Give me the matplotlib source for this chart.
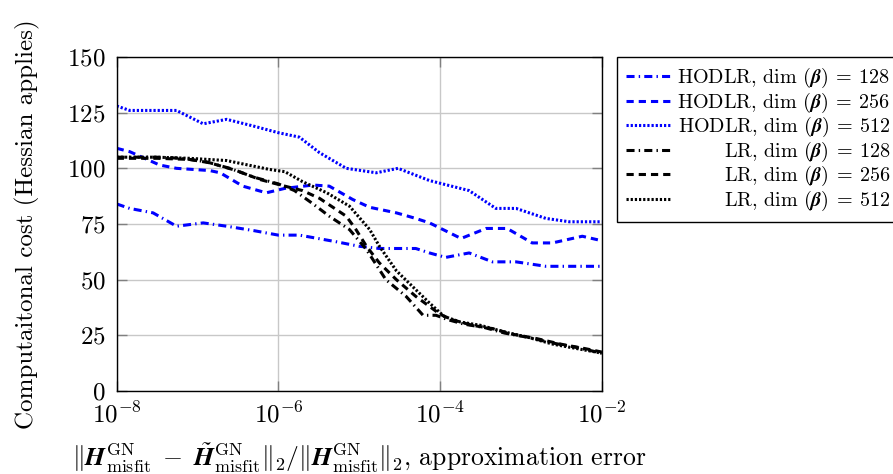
import numpy as np
import matplotlib
matplotlib.use('Agg')
import matplotlib.pyplot as plt

plt.rcParams['font.family'] = 'cmr10'
plt.rcParams['mathtext.fontset'] = 'cm'
plt.rcParams['axes.unicode_minus'] = False
plt.rcParams['axes.formatter.use_mathtext'] = True
plt.rcParams['lines.scale_dashes'] = False

# relative approximation error (log10 exponents) and Hessian applies per curve
hodlr128_exp = [-8.0, -7.84, -7.55, -7.26, -6.93, -6.64, -6.3, -6.0, -5.74, -5.28,
                -5.0, -4.75, -4.30, -4.13, -3.93, -3.64, -3.35, -3.06, -2.69, -2.0]
hodlr128_cost = [84, 82, 80, 74, 75.5, 74, 72, 70, 70, 67,
                 65, 64, 64, 62, 60, 62, 58, 58, 56, 56]

hodlr256_exp = [-8.0, -7.84, -7.47, -7.26, -6.85, -6.72, -6.44, -6.15, -5.92, -5.57,
                -5.37, -5.08, -4.87, -4.54, -4.30, -4.13, -3.74, -3.43, -3.17, -2.86,
                -2.61, -2.24, -2.0]
hodlr256_cost = [109, 107.5, 101.5, 100, 99, 98, 92, 89, 91, 92.5,
                 92, 86, 82.5, 80, 77.5, 75.5, 68.5, 73, 73, 66.5,
                 66.5, 69.5, 67.5]

hodlr512_exp = [-8.0, -7.84, -7.26, -6.93, -6.64, -6.31, -6.0, -5.74, -5.49, -5.16,
                -4.79, -4.52, -4.13, -3.64, -3.31, -3.06, -2.69, -2.4, -2.0]
hodlr512_cost = [128, 126, 126, 120, 122, 119, 116, 114, 107, 100,
                 98, 100, 94.5, 90, 82, 82, 77.5, 76, 76]

lr128_exp = [-8.0, -7.5, -7.2, -6.9, -6.6, -6.3, -6.0, -5.8, -5.57, -5.37,
             -5.12, -4.91, -4.67, -4.42, -4.21, -4.05, -3.9, -3.7, -3.45, -3.2,
             -2.9, -2.6, -2.3, -2.0]
lr128_cost = [105, 105, 104.5, 103, 100, 96, 93, 90, 84, 78.5,
              72.5, 63.5, 50, 42.5, 34, 34, 32, 30, 28.5, 26,
              24, 21.5, 19.5, 17]

lr256_exp = [-8.0, -7.5, -7.1, -6.85, -6.52, -6.23, -5.92, -5.7, -5.49, -5.16,
             -5.04, -4.91, -4.75, -4.54, -4.30, -4.0, -3.85, -3.6, -3.35, -3.1,
             -2.8, -2.5, -2.2, -2.0]
lr256_cost = [104.5, 104.5, 104, 102.5, 99, 95, 92, 90, 86.5, 78.5,
              72.5, 65, 57.5, 50, 42.5, 34.5, 32, 29.5, 28, 25.5,
              23.5, 21, 19, 17.5]

lr512_exp = [-8.0, -7.5, -7.1, -6.64, -6.31, -6.11, -5.92, -5.7, -5.4, -5.12,
             -4.87, -4.75, -4.54, -4.3, -4.13, -3.95, -3.75, -3.5, -3.2, -2.9,
             -2.6, -2.3, -2.0]
lr512_cost = [105, 105, 104.5, 103.5, 101, 99.5, 98.5, 94, 89, 83,
              72.5, 65, 54, 45.5, 39.5, 33.5, 31, 29.5, 26.5, 24,
              21, 19, 17]

x_ticks = [1e-8, 1e-6, 1e-4, 1e-2]
x_ticklabels = [r'$10^{-8}$', r'$10^{-6}$', r'$10^{-4}$', r'$10^{-2}$']
y_ticks = [0, 25, 50, 75, 100, 125, 150]

labels = [r'HODLR, $\dim\,(\boldsymbol{\beta})\:=\:128$',
          r'HODLR, $\dim\,(\boldsymbol{\beta})\:=\:256$',
          r'HODLR, $\dim\,(\boldsymbol{\beta})\:=\:512$',
          r'LR, $\dim\,(\boldsymbol{\beta})\:=\:128$',
          r'LR, $\dim\,(\boldsymbol{\beta})\:=\:256$',
          r'LR, $\dim\,(\boldsymbol{\beta})\:=\:512$']

dashdot = (0, (5.8, 3.0, 1.0, 3.0))
dashed = (0, (5.2, 3.6))
dotted = (0, (1.6, 1.4))

series = [
    (hodlr128_exp, hodlr128_cost, 'blue', dashdot),
    (hodlr256_exp, hodlr256_cost, 'blue', dashed),
    (hodlr512_exp, hodlr512_cost, 'blue', dotted),
    (lr128_exp, lr128_cost, 'black', dashdot),
    (lr256_exp, lr256_cost, 'black', dashed),
    (lr512_exp, lr512_cost, 'black', dotted),
]

W, H = 893, 474
fig = plt.figure(figsize=(W / 100, H / 100), dpi=100)
ax = fig.add_axes([116.7 / W, 1 - 391 / H, 485 / W, 334 / H])

for (ex, cost, color, ls), lab in zip(series, labels):
    ax.plot(10.0 ** np.array(ex), cost, color=color, linestyle=ls,
            linewidth=2.2, dash_capstyle='butt', label=lab)

ax.set_xscale('log')
ax.set_xlim(1e-8, 1e-2)
ax.set_ylim(0, 150)
ax.set_xticks(x_ticks)
ax.set_xticklabels(x_ticklabels)
ax.xaxis.set_minor_locator(matplotlib.ticker.NullLocator())
ax.set_yticks(y_ticks)
ax.grid(True, color='#c8c8c8', linewidth=1.0)
ax.set_axisbelow(True)
ax.tick_params(which='major', direction='in', length=7, width=1.0,
               color='#808080', labelsize=18, pad=8,
               top=True, right=True)
for sp in ax.spines.values():
    sp.set_linewidth(1.0)
    sp.set_color('black')

ax.set_ylabel('Computaitonal cost (Hessian applies)', fontsize=18)
ax.yaxis.set_label_coords(-0.158, 0.5)
ax.set_xlabel(r'$\|\boldsymbol{H}^{\mathrm{GN}}_{\mathrm{misfit}}'
              r'\;-\;\tilde{\boldsymbol{H}}^{\mathrm{GN}}_{\mathrm{misfit}}\|_2'
              r'/\|\boldsymbol{H}^{\mathrm{GN}}_{\mathrm{misfit}}\|_2$, approximation error',
              fontsize=18.5)
ax.xaxis.set_label_coords(0.5, -0.148)

leg = ax.legend(loc='upper left', bbox_to_anchor=(617 / W, 1 - 57 / H),
                bbox_transform=fig.transFigure, fontsize=14.5, frameon=True,
                fancybox=False, framealpha=1, edgecolor='black',
                borderaxespad=0, borderpad=0.45, handlelength=2.25,
                handletextpad=0.3, labelspacing=0.02)
leg.get_frame().set_linewidth(1.0)

# right-align the legend labels, keeping the handles on the left
fig.canvas.draw()
renderer = fig.canvas.get_renderer()
widths = [t.get_window_extent(renderer).width for t in leg.get_texts()]
wmax = max(widths)
for t, w in zip(leg.get_texts(), widths):
    t.set_position((wmax - w, 0))

fig.savefig('out.png', dpi=100)
